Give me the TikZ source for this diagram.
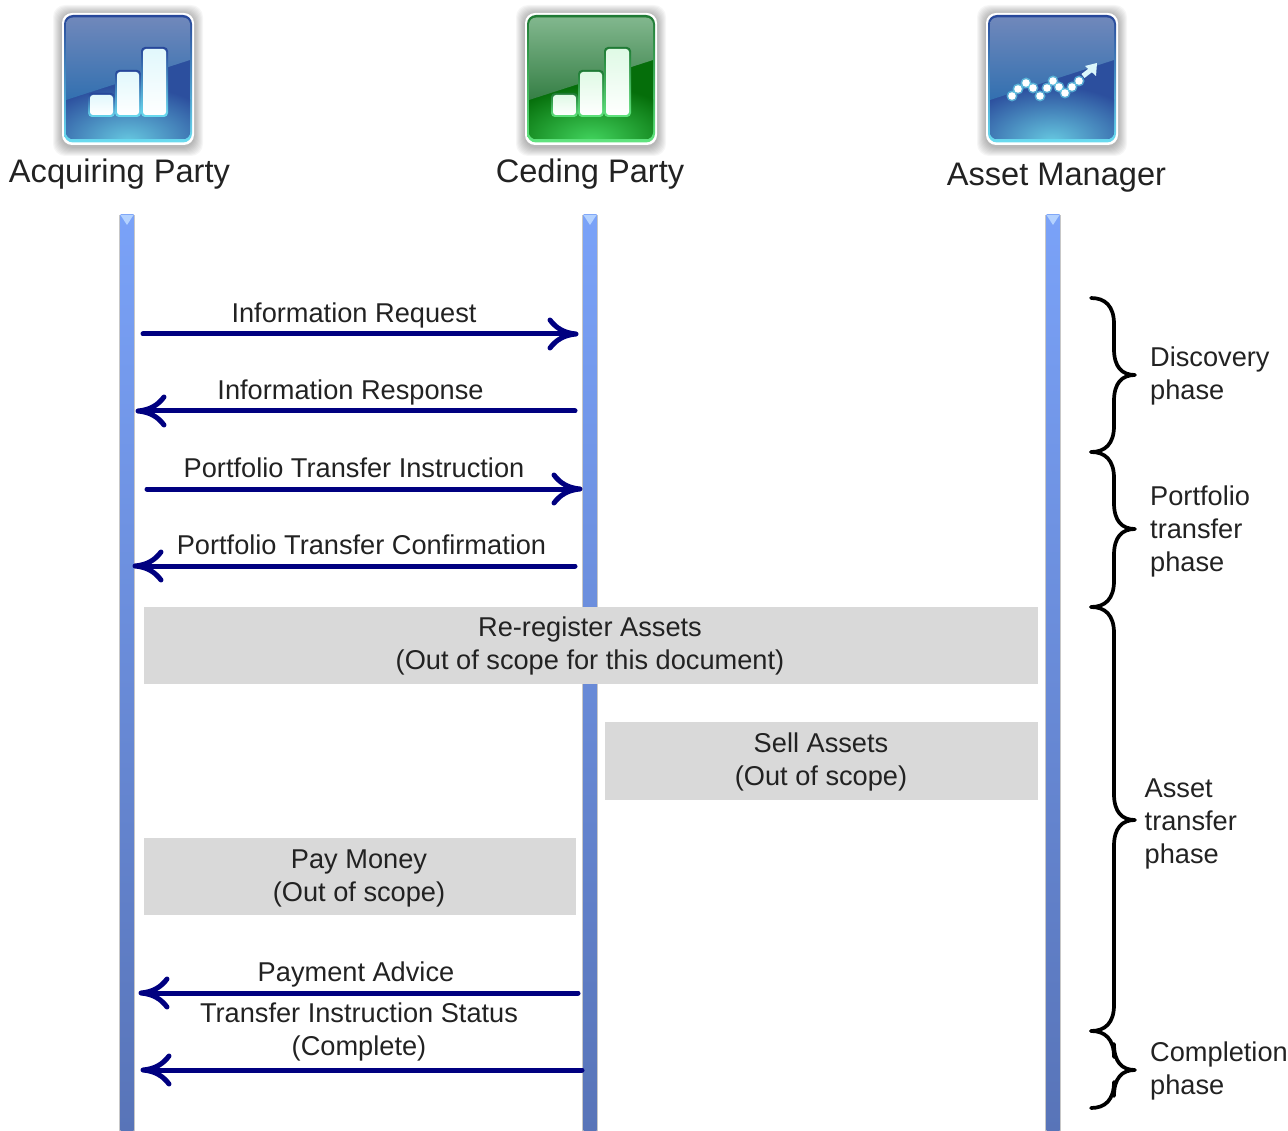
\documentclass[tikz,border=0pt]{standalone}
\usepackage{fontspec}
\setmainfont{Liberation Sans}
\usetikzlibrary{arrows.meta}
\definecolor{arrowblue}{HTML}{000080}
\definecolor{txt}{HTML}{222222}
\definecolor{boxgray}{HTML}{D9D9D9}
\definecolor{lifetop}{HTML}{7AA2F8}
\definecolor{lifemid}{HTML}{7396E8}
\definecolor{lifebot}{HTML}{5874B8}
\definecolor{lifetip}{HTML}{B4D2FF}
\pgfdeclarearrow{
  name=MsgTip,
  setup code={
    \pgfarrowssettipend{0pt}
    \pgfarrowssetlineend{-8pt}
    \pgfarrowssetvisualbackend{-8pt}
    \pgfarrowssetbackend{-30pt}
    \pgfarrowshullpoint{0pt}{0pt}
    \pgfarrowsupperhullpoint{-30pt}{15pt}
  },
  drawing code={
    \pgfsetlinewidth{5pt}
    \pgfsetroundcap
    \pgfsetroundjoin
    \pgfpathmoveto{\pgfpoint{-28pt}{14pt}}
    \pgfpathcurveto{\pgfpoint{-22pt}{6pt}}{\pgfpoint{-14pt}{1pt}}{\pgfpoint{-2pt}{0pt}}
    \pgfpathcurveto{\pgfpoint{-14pt}{-1pt}}{\pgfpoint{-22pt}{-6pt}}{\pgfpoint{-28pt}{-14pt}}
    \pgfusepathqstroke
  }
}
\tikzset{
  x=1pt,y=-1pt,
  msg/.style={draw=arrowblue,line width=5pt,line cap=round,-{MsgTip}},
  msglabel/.style={anchor=base,text=txt,font=\fontsize{27.2}{33}\selectfont,inner sep=0pt,align=center},
  phaselabel/.style={anchor=base west,text=txt,font=\fontsize{27.2}{33}\selectfont,inner sep=0pt,align=left},
  party/.style={anchor=base,text=txt,font=\fontsize{32.6}{36}\selectfont,inner sep=0pt},
  graybox/.style={fill=boxgray,draw=none,anchor=north west,inner sep=0pt},
  bracepath/.style={draw=black,line width=3.7pt,line cap=round,line join=round},
}
% icon background: #1 centre, #2 top, #3 gloss bottom, #4 lower, #5 glow, #6 rim top, #7 rim bottom
\newcommand{\iconbase}[7]{%
  \begin{scope}[shift={#1}]
    \foreach \d in {9,8,7,6,5,4,3,2,1}{\fill[black,opacity=0.035,rounded corners=12pt] (-66-\d,-66-\d+1) rectangle (66+\d,66+\d+2);}
    \fill[white,rounded corners=10pt] (-66,-66) rectangle (66,66);
    \shade[top color=#6,bottom color=#7,rounded corners=9pt] (-64,-64) rectangle (64,63.5);
    \begin{scope}
      \clip[rounded corners=7pt] (-62,-61.5) rectangle (62,60);
      \fill[#4] (-62,-62) rectangle (62,60);
      \shade[inner color=#5,outer color=#4] (0,62) ellipse (95 and 55);
      \shade[top color=#2,bottom color=#3] (-62,-62) -- (62,-62) -- (62,-19) -- (-62,21) -- cycle;
    \end{scope}
  \end{scope}}
\newcommand{\iconbars}[3]{%
  \begin{scope}[shift={#1}]
    \foreach \xa/\ya/\xb in {-38/16/-15,-11/-7/11,15/-30/38}{
      \shade[top color=#2,bottom color=#3,rounded corners=4pt] (\xa-2,\ya-2) rectangle (\xb+2,38);
      \shade[top color=white!80!#3,bottom color=white,rounded corners=3pt] (\xa,\ya) rectangle (\xb,36);
    }
  \end{scope}}
\begin{document}
\begin{tikzpicture}
\useasboundingbox (0,0) rectangle (1288,1131);
% lifelines
\foreach \n/\cx in {a/127,b/590,c/1053}{
  \fill[black!22] (\cx-8,215) rectangle (\cx+8,1131);
  \shade[top color=lifetop,middle color=lifemid,bottom color=lifebot] (\cx-6.5,215) rectangle (\cx+6.5,1131);
  \fill[lifetip] (\cx-6.5,215) -- (\cx+6.5,215) -- (\cx,225) -- cycle;
  \coordinate (life\n) at (\cx,215);
}
% icons
\definecolor{bT}{HTML}{7088BB}\definecolor{bG}{HTML}{3270B0}\definecolor{bL}{HTML}{2C4F9E}\definecolor{bW}{HTML}{66C8E0}\definecolor{bR}{HTML}{27479A}\definecolor{bC}{HTML}{6ADCF0}
\definecolor{gT}{HTML}{82B78E}\definecolor{gG}{HTML}{357F45}\definecolor{gL}{HTML}{056E0A}\definecolor{gW}{HTML}{42D45E}\definecolor{gR}{HTML}{1F7A35}\definecolor{gC}{HTML}{60E47E}
\iconbase{(128,79)}{bT}{bG}{bL}{bW}{bR}{bC}
\iconbars{(128,79)}{bR}{bC}
\iconbase{(591,79)}{gT}{gG}{gL}{gW}{gR}{gC}
\iconbars{(591,79)}{gR}{gC}
\iconbase{(1052,79)}{bT}{bG}{bL}{bW}{bR}{bC}
\begin{scope}[shift={(1052,79)}]
  \foreach \px/\py in {-40/17,-34/10,-26/4,-19/9,-12/17,-5/9,1/2,7/8,13/14,20/8,27/2}{
    \fill[bC,opacity=0.6] (\px,\py) circle (5.5pt);
    \fill[white] (\px,\py) circle (3.8pt);}
  \draw[white!75!bC,line width=5pt] (31,-3) -- (40,-10);
  \fill[white!75!bC] (33,-13) -- (45,-16) -- (44,-3) -- cycle;
\end{scope}
% party labels
\node[party] (pa) at (119.5,183) {Acquiring Party};
\node[party] (pb) at (590,183) {Ceding Party};
\node[party] (pc) at (1056.5,185.5) {Asset Manager};
% gray boxes
\node[graybox,minimum width=894.5pt,minimum height=77pt] (g1) at (143.5,607) {};
\node[graybox,minimum width=433pt,minimum height=78pt] (g2) at (605,722) {};
\node[graybox,minimum width=432.5pt,minimum height=77pt] (g3) at (143.5,838) {};
\node[msglabel] (g1t) at (590,669) {Re-register Assets\\(Out of scope for this document)};
\node[msglabel] (g2t) at (821,785) {Sell Assets\\(Out of scope)};
\node[msglabel] (g3t) at (359,901) {Pay Money\\(Out of scope)};
% messages
\coordinate (m1s) at (143,334); \coordinate (m1e) at (578,334);
\coordinate (m2s) at (575,411); \coordinate (m2e) at (136,411);
\coordinate (m3s) at (147,489); \coordinate (m3e) at (582,489);
\coordinate (m4s) at (575,566); \coordinate (m4e) at (133,566);
\coordinate (m5s) at (578,993); \coordinate (m5e) at (139,993);
\coordinate (m6s) at (582,1070); \coordinate (m6e) at (141,1070);
\draw[msg] (m1s) -- (m1e);
\draw[msg] (m2s) -- (m2e);
\draw[msg] (m3s) -- (m3e);
\draw[msg] (m4s) -- (m4e);
\draw[msg] (m5s) -- (m5e);
\draw[msg] (m6s) -- (m6e);
\node[msglabel] (l1) at (354,323) {Information Request};
\node[msglabel] (l2) at (350.5,400) {Information Response};
\node[msglabel] (l3) at (354,477) {Portfolio Transfer Instruction};
\node[msglabel] (l4) at (361.5,554) {Portfolio Transfer Confirmation};
\node[msglabel] (l5) at (356,981) {Payment Advice};
\node[msglabel] (l6) at (359,1055) {Transfer Instruction Status\\(Complete)};
% braces
\newcommand{\phasebrace}[3]{%
  \draw[bracepath] (1091,#1) .. controls (1105,#1) and (1114,{#1+8}) .. (1114,{#1+26})
    -- (1114,{#2-26}) .. controls (1114,{#2-8}) and (1122,#2) .. (1135,#2)
    .. controls (1122,#2) and (1114,{#2+8}) .. (1114,{#2+26})
    -- (1114,{#3-26}) .. controls (1114,{#3-8}) and (1105,#3) .. (1091,#3);}
\phasebrace{298}{375}{452}
\phasebrace{452}{529}{607}
\phasebrace{607}{820}{1031}
\phasebrace{1031}{1070}{1108}
\node[phaselabel] (p1) at (1150,400) {Discovery\\phase};
\node[phaselabel] (p2) at (1150,571) {Portfolio\\transfer\\phase};
\node[phaselabel] (p3) at (1144.5,863) {Asset\\transfer\\phase};
\node[phaselabel] (p4) at (1150,1094) {Completion\\phase};
\end{tikzpicture}
\end{document}
